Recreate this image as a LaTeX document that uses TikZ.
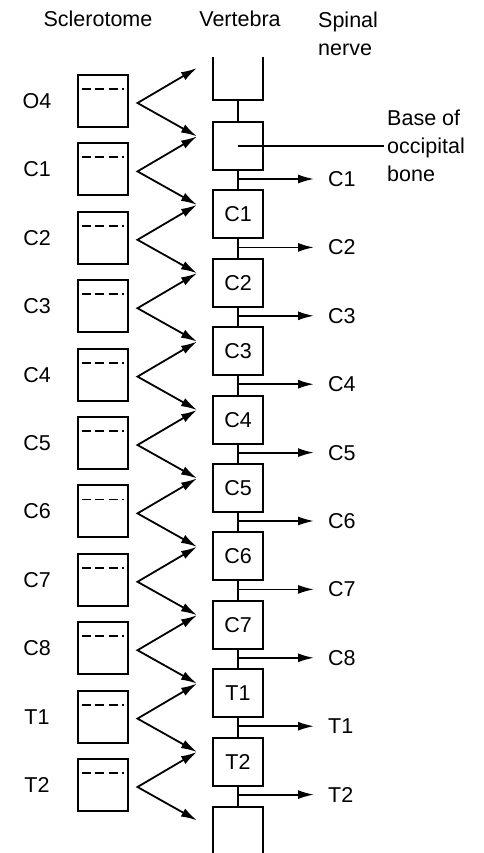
\documentclass[tikz,border=0pt]{standalone}
\usepackage{fontspec}
\setmainfont{Liberation Sans}
\usetikzlibrary{arrows.meta,positioning,calc}

\begin{document}
\begin{tikzpicture}[x=1pt, y=-1pt,
  font=\fontsize{21.5}{28}\selectfont,
  sclbox/.style={draw, line width=2pt, minimum width=50pt, minimum height=52pt, inner sep=0pt},
  vertbox/.style={draw, line width=2pt, minimum width=50pt, minimum height=48pt, inner sep=0pt},
  midline/.style={line width=1.8pt, dash pattern=on 9pt off 4.5pt},
  link/.style={line width=2pt},
  arr/.style={-{Latex[length=16pt,width=9pt]}, line width=1.8pt},
  vee/.style={{Latex[length=16pt,width=9pt]}-{Latex[length=16pt,width=9pt]}, line width=1.8pt},
  lbl/.style={inner sep=0pt}
]
\useasboundingbox (0,0) rectangle (483,853);

% column heads
\node[anchor=base] (hscl) at (98,27) {Sclerotome};
\node[anchor=base] (hvert) at (240,27) {Vertebra};
\node[lbl, anchor=north west, align=left] (hnerve) at (318,12) {Spinal\\nerve};

% sclerotomes
\foreach \name [count=\i from 0] in {O4,C1,C2,C3,C4,C5,C6,C7,C8,T1,T2} {
  \pgfmathsetmacro{\yc}{101+68.4*\i}
  \node[sclbox] (s\i) at (102.5,\yc) {};
  \node (sl\i) at (37,\yc) {\name};
  \draw[midline] ($(s\i.north west)+(5,15)$) -- ($(s\i.north east)+(-5,15)$);
}
\foreach \i in {0,...,11} {
  \pgfmathsetmacro{\ym}{68+68.4*\i}
  \coordinate (m\i) at (197,\ym);
}
\foreach \i in {0,...,10} {
  \pgfmathtruncatemacro{\j}{\i+1}
  \coordinate (a\i) at ($(s\i.east)+(9,2)$);
  \draw[vee] (m\i) -- (a\i) -- (m\j);
}

% vertebrae
\coordinate (topcap) at (238,100);
\coordinate (botcap) at (238,807);
\draw[link] ($(topcap)+(-25,-43)$) -- ($(topcap)+(-25,0)$) -- ($(topcap)+(25,0)$) -- ($(topcap)+(25,-43)$);
\draw[link] ($(botcap)+(-25,46)$) -- ($(botcap)+(-25,0)$) -- ($(botcap)+(25,0)$) -- ($(botcap)+(25,46)$);
\node[vertbox] (v0) at (238,146) {};
\draw[link] (topcap) -- (v0.north);
\foreach \name [count=\j from 1] in {C1,C2,C3,C4,C5,C6,C7,T1,T2} {
  \pgfmathsetmacro{\yv}{146+68.4*\j}
  \pgfmathtruncatemacro{\k}{\j-1}
  \node[vertbox] (v\j) at (238,\yv) {\name};
  \draw[link] (v\k.south) -- (v\j.north);
}
\draw[link] (v9.south) -- (botcap);

% spinal nerves
\foreach \name [count=\j from 0] in {C1,C2,C3,C4,C5,C6,C7,C8,T1,T2} {
  \pgfmathsetmacro{\yn}{146+68.4*\j+33}
  \coordinate (n\j) at (238,\yn);
  \node[lbl, anchor=west] (nl\j) at (328,\yn) {\name};
  \draw[arr, shorten >=14pt] (n\j) -- (nl\j.west);
}

% label of the first box
\node[anchor=west, align=left, inner sep=3pt] (boc) at (384,146) {Base of\\occipital\\bone};
\draw[line width=1.2pt] (v0.center) -- (boc.west);
\end{tikzpicture}
\end{document}
